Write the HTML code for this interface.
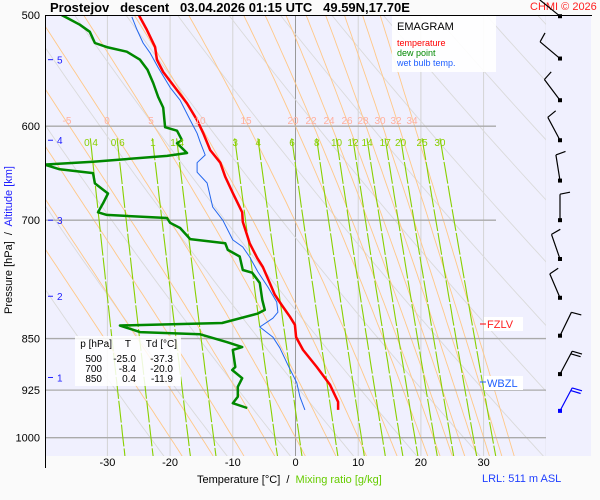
<!DOCTYPE html>
<html><head><meta charset="utf-8"><style>
body{margin:0;background:#fafafa;}
svg{display:block;font-family:"Liberation Sans",sans-serif;}
</style></head><body>
<svg id="chart" width="600" height="500" viewBox="0 0 600 500">
<rect x="0" y="0" width="600" height="500" fill="#fafafa"/>
<rect x="46" y="15" width="545" height="441" fill="#f0f0fe"/>
<defs><clipPath id="pc"><rect x="46" y="15" width="500" height="441"/></clipPath></defs>
<g id="grid" clip-path="url(#pc)"></g>
<g id="series" clip-path="url(#pc)"></g>
<g id="labels"></g>
<line x1="45.5" y1="15" x2="45.5" y2="468" stroke="#000"/>
<line x1="46" y1="15.5" x2="592" y2="15.5" stroke="#000"/>
<text x="50" y="12" font-size="13" font-weight="bold" xml:space="preserve">Prostejov   descent   03.04.2026 01:15 UTC   49.59N,17.70E</text>
<text x="530" y="10" font-size="11" fill="#ff2020">CHMI © 2026</text>
<g>
<rect x="392" y="16" width="104" height="56" fill="#fff" opacity="0.9"/>
<text x="397" y="30" font-size="11">EMAGRAM</text>
<text x="397" y="46" font-size="9" fill="#ff0000">temperature</text>
<text x="397" y="56" font-size="9" fill="#008800">dew point</text>
<text x="397" y="66" font-size="9" fill="#2060ff">wet bulb temp.</text>
</g>
<g font-size="10" text-anchor="end">
<rect x="75" y="336" width="106" height="50" fill="#fff" opacity="0.85"/>
<text x="112" y="347">p [hPa]</text>
<text x="131" y="347">T</text>
<text x="177" y="347">Td [°C]</text>
<text x="102" y="362">500</text><text x="136" y="362">-25.0</text><text x="173" y="362">-37.3</text>
<text x="102" y="372">700</text><text x="136" y="372">-8.4</text><text x="173" y="372">-20.0</text>
<text x="102" y="382">850</text><text x="136" y="382">0.4</text><text x="173" y="382">-11.9</text>
</g>
<g>
<rect x="484" y="317" width="39" height="14" fill="#fff"/>
<line x1="480" y1="324" x2="486" y2="324" stroke="#ff0000"/>
<text x="487" y="328" font-size="11" fill="#ff2020">FZLV</text>
</g>
<g>
<rect x="484" y="376" width="39" height="14" fill="#fff"/>
<line x1="480" y1="382" x2="486" y2="382" stroke="#2060ff"/>
<text x="487" y="387" font-size="11" fill="#2060ff">WBZL</text>
</g>
<text x="197" y="483" font-size="11" xml:space="preserve">Temperature [°C]  /  <tspan fill="#66cc00">Mixing ratio [g/kg]</tspan></text>
<text x="482" y="482" font-size="11" fill="#2040ff">LRL: 511 m ASL</text>
<text transform="translate(12,240) rotate(-90)" font-size="11" text-anchor="middle" xml:space="preserve">Pressure [hPa]  /  <tspan fill="#2020ff">Altitude [km]</tspan></text>
<g id="barbs"></g>
</svg>
<script>
const pLevels=[500,600,700,850,925,1000];
const tTicks=[-30,-20,-10,0,10,20,30];
const isotherms=[-40,-30,-20,-10,0,10,20,30,40];
const dryTheta=[250,260,270,280,290,300,310,320,330,340,350,360,370,380,390,400,410,420,430,440];
const moistThetaW=[-20,-15,-10,-5,0,5,10,15,20,22,24,26,28,30,32,34];
const moistLabels=["-5","0","5","10","15","20","22","24","26","28","30","32","34"];
const moistLabelX=[67,107,151,200,246,293,311,329,347,363,380,396,412];
const mixVals=[0.4,0.6,1,1.4,3,4,6,8,10,12,14,17,20,25,30];
const mixLabels=["0.4","0.6","1","1.4","3","4","6","8","10","12","14","17","20","25","30"];
const altKm=[1,2,3,4,5];
const altP=[906,793,700,614,538];
const tempP=[500,512.4,527,538,549,565.5,578,594,607,624,637,652,669.5,691,702,727,745,756,776,791,804.5,820,831,848,866,890.6,917,943,955.5];
const tempT=[-25.0,-23.7,-22.4,-22.1,-21.1,-18.9,-17.3,-15.7,-14.7,-13.6,-12.0,-11.2,-10.0,-8.5,-8.4,-7.3,-6.1,-5.2,-4.1,-3.3,-2.2,-0.9,-0.1,0.1,1.2,3.4,5.5,6.8,6.8];
const wbP=[501.6,512,523.5,532,545,563,575,594,607,616,629,637,647,658.6,685,700,723,731.5,743.6,762,781,800.5,814,822,834,848,863,888,914,935,955.5];
const wbT=[-26.1,-25.3,-24.3,-23.2,-21.9,-20.0,-18.4,-16.8,-15.7,-15.2,-14.4,-15.7,-15.7,-14.1,-13.2,-11.6,-10.0,-8.4,-7.3,-6.0,-4.4,-3.0,-2.8,-3.6,-5.7,-3.6,-2.5,-1.2,0.2,0.7,1.5];
const dewP=[500,502.5,508,514,523.5,527,531,538,547,559,572,582,601,604.5,614,617,627,630,636,639,644,648,659,670,681,691,694,697.5,703,709,722,727,735,743,759.6,763,776,798,811,816,828.6,832,841,844,855,862,866,890.6,895,907,920,935,945,952.5];
const dewT=[-37.3,-36.4,-34.4,-32.8,-32.0,-30.1,-26.9,-24.8,-23.6,-22.7,-21.9,-21.1,-20.8,-18.9,-18.1,-18.9,-17.3,-20.5,-32.3,-40.0,-37.6,-32.3,-32.0,-29.9,-30.7,-31.5,-30.1,-20.5,-20.0,-18.4,-16.8,-11.2,-10.8,-8.9,-8.4,-6.9,-5.7,-5.3,-4.9,-6.1,-11.7,-28.0,-24.8,-15.2,-10.9,-8.5,-10.0,-9.6,-10.1,-8.5,-9.2,-9.2,-10.0,-7.7];
const windP=[501,537,575,614,656,700,746,795,846,901,957];
const windDir=[309,310,323,332,351,360,341,337,26,28,28];
const windSpd=[10,10,10,10,10,10,10,10,10,20,20];

const NS="http://www.w3.org/2000/svg";
const X=t=>295.5+6.27*t;
const Y=p=>15+609.8*Math.log(p/500);
function mk(tag,attrs,parent){const e=document.createElementNS(NS,tag);for(const k in attrs)e.setAttribute(k,attrs[k]);parent.appendChild(e);return e;}
const grid=document.getElementById('grid'),series=document.getElementById('series'),labels=document.getElementById('labels'),barbs=document.getElementById('barbs');
function pathFrom(pts){return pts.map((q,i)=>(i?'L':'M')+q[0].toFixed(1)+','+q[1].toFixed(1)).join('');}

isotherms.forEach(t=>{
  const l=mk('line',{x1:X(t),x2:X(t),y1:15,y2:456,stroke:t===0?'#999':'#d4d4d4','stroke-width':1},grid);
  
  
});
dryTheta.forEach(th=>{
  const pts=[];for(let p=480;p<=1040;p+=10)pts.push([X(th*Math.pow(p/1000,0.2857)-273.15),Y(p)]);
  const e=mk('path',{d:pathFrom(pts),fill:'none',stroke:'#dadada','stroke-width':0.9},grid);
  
  
});
function es(T){return 6.112*Math.exp(17.67*T/(T+243.5));}
function moist(tw){
  const pts=[];let T=tw+273.15;const dp=-5;
  const f=(T,p)=>{const rs=0.622*es(T-273.15)/(p-es(T-273.15));const L=2.5e6,Rd=287,cp=1004;
    return (Rd*T+L*rs)/(p*(cp+L*L*rs*0.622/(Rd*T*T)));};
  let Td=T;for(let pp=1000;pp<1040;pp+=5){Td+=f(Td,pp)*5;}
  let pp=1040;T=Td;
  while(pp>=480){pts.push([X(T-273.15),Y(pp)]);T+=f(T,pp)*dp;pp+=dp;}
  return pts;
}
moistThetaW.forEach(tw=>{
  const e=mk('path',{d:pathFrom(moist(tw)),fill:'none',stroke:'#ffc888','stroke-width':0.9},grid);
  
  
});
pLevels.forEach(p=>{
  const x2=(p===600||p===700)?496:546;
  const l=mk('line',{x1:46,x2:x2,y1:Y(p),y2:Y(p),stroke:'#aaa','stroke-width':1.3},grid);
  
  
});
function tdFromW(w,p){const e=w*p/(622+w);const a=Math.log(e/6.112);return 243.5*a/(17.67-a);}
mixVals.forEach((w,i)=>{
  const pts=[];for(let p=612;p<=1040;p+=10)pts.push([X(tdFromW(w,p)),Y(p)]);
  const e=mk('path',{d:pathFrom(pts),fill:'none',stroke:'#88d000','stroke-width':1.1,'stroke-dasharray':'22 2'},grid);
  
  
  const t=mk('text',{x:X(tdFromW(w,600))+2,y:146,'font-size':10,fill:'#88d000','text-anchor':'middle'},labels);
  t.textContent=mixLabels[i];
  
  
});
moistLabels.forEach((s,i)=>{
  const t=mk('text',{x:moistLabelX[i],y:124,'font-size':10,fill:'#ffb0a0','text-anchor':'middle'},labels);
  t.textContent=s;
  
  
});
function line(P,T,color,w,name){
  const pts=P.map((p,i)=>[X(T[i]),Y(p)]);
  const e=mk('path',{d:pathFrom(pts),fill:'none',stroke:color,'stroke-width':w,'stroke-linejoin':'round'},series);
  
  
}
line(wbP,wbT,'#2266ee',1,'wet-bulb-line');
line(dewP,dewT,'#008800',2.5,'dew-point-line');
line(tempP,tempT,'#ff0000',2.5,'temperature-line');
pLevels.forEach(p=>{
  const t=mk('text',{x:40,y:Y(p)+4,'font-size':11,'text-anchor':'end'},labels);
  t.textContent=p;
  
  
});
tTicks.forEach(v=>{
  const t=mk('text',{x:X(v),y:466,'font-size':11,'text-anchor':'middle'},labels);
  t.textContent=v;
  
  
});
altKm.forEach((k,i)=>{
  const y=Y(altP[i]);
  const l=mk('line',{x1:48,x2:53,y1:y,y2:y,stroke:'#2020ff'},labels);
  
  
  const t=mk('text',{x:57,y:y+4,'font-size':10,fill:'#2020ff'},labels);
  t.textContent=k;
  
  
});
windP.forEach((p,i)=>{
  const bx=560,by=Y(p);const a=windDir[i]*Math.PI/180;
  const ux=Math.sin(a),uy=-Math.cos(a);const L=26;
  const tx=bx+ux*L,ty=by+uy*L;
  const col=i===windP.length-1?'#0000ff':'#000';
  const g=mk('g',{},barbs);
  
  
  let d='M'+bx+','+by+'L'+tx.toFixed(1)+','+ty.toFixed(1);
  const px=-uy,py=ux;
  let n=Math.round(windSpd[i]/10);
  for(let k=0;k<n;k++){const sx=tx-ux*k*3,sy=ty-uy*k*3;d+='M'+sx.toFixed(1)+','+sy.toFixed(1)+'l'+(px*10+ux*2).toFixed(1)+','+(py*10+uy*2).toFixed(1);}
  mk('path',{d:d,stroke:col,fill:'none','stroke-width':1.2},g);
  mk('rect',{x:bx-2,y:by-2,width:4,height:4,fill:col},g);
});
</script>
</body></html>
